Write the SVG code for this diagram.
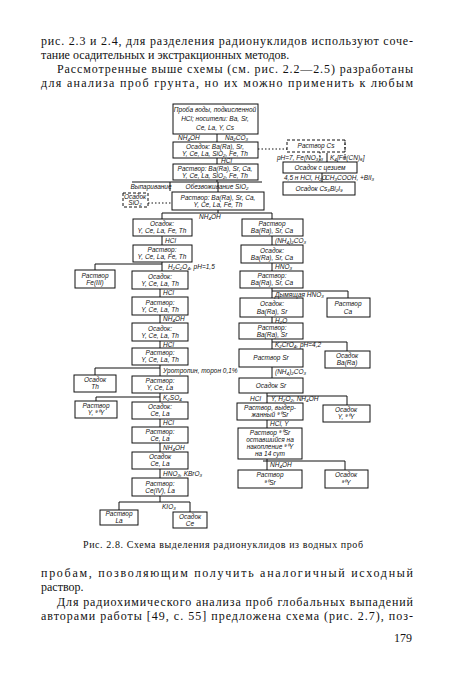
<svg xmlns="http://www.w3.org/2000/svg" width="450" height="675" viewBox="0 0 450 675">
<style>
.bg{fill:#fff}
.body{font-family:"Liberation Serif","Times New Roman",serif;font-size:12px;fill:#111}
.cap{font-family:"Liberation Serif","Times New Roman",serif;font-size:10px;fill:#111}
.b{fill:none;stroke:#111;stroke-width:1}
.bd{fill:none;stroke:#111;stroke-width:1;stroke-dasharray:3 2}
.t{font-family:"Liberation Sans",Arial,sans-serif;font-style:italic;font-size:6.5px;fill:#111;text-anchor:middle}
.l{font-family:"Liberation Sans",Arial,sans-serif;font-style:italic;font-size:6.5px;fill:#111}
.c{fill:none;stroke:#111;stroke-width:1}
.cd{fill:none;stroke:#111;stroke-width:1;stroke-dasharray:1.5 2}
</style>
<rect class="bg" x="0" y="0" width="450" height="675"/>
<g id="text-top">
<text class="body" x="41" y="45" textLength="372" lengthAdjust="spacing">рис. 2.3 и 2.4, для разделения радионуклидов используют соче-</text>
<text class="body" x="41" y="59">тание осадительных и экстракционных методов.</text>
<text class="body" x="57" y="73" textLength="356" lengthAdjust="spacing">Рассмотренные выше схемы (см. рис. 2.2—2.5) разработаны</text>
<text class="body" x="41" y="87" textLength="372" lengthAdjust="spacing">для анализа проб грунта, но их можно применить к любым</text>
</g>
<g id="connectors">
<path class="c" d="M217,134V142M217,158V164M217,180V182M132,182H262M170,182V191M218,182V192"/>
<path class="cd" d="M148,203H172"/>
<path class="c" d="M218,210V213M162,213H272M162,213V219M272,213V219"/>
<path class="c" d="M162,236V245M162,262V271M95,264H162M95,264V270"/>
<path class="c" d="M160,289V297M160,315V323M160,341V348M160,365V376M95,368H160M95,368V375"/>
<path class="c" d="M160,393V402M96,397H160M96,397V401M160,419V427M160,443V452M160,469V478M160,496V502M119,502H190M119,502V510M190,502V512"/>
<path class="c" d="M272,236V245M272,263V271M272,288V298M272,291H348M348,291V298M272,317V323M272,339V349M272,342H347M347,342V351M272,367V378M267,393V403M267,396H347M347,396V405M267,420V428M267,459V470M263,461H345M345,461V470"/>
<path class="cd" d="M258,149H287M345,140V160M320,152V162"/>
<path class="c" d="M327,153V162M322,173V182"/>
</g>
<g id="labels">
<text class="l" x="178" y="140">NH₄OH</text>
<text class="l" x="225" y="140">Na₂CO₃</text>
<text class="l" x="221" y="163">HCl</text>
<text class="t" x="151" y="189">Выпаривание</text>
<text class="t" x="217" y="189">Обезвоживание SiO₂</text>
<text class="l" x="199" y="219">NH₄OH</text>
<text class="l" x="165" y="243">HCl</text>
<text class="l" x="168" y="269">H₂C₂O₄, pH=1,5</text>
<text class="l" x="163" y="295">HCl</text>
<text class="l" x="163" y="321">NH₄OH</text>
<text class="l" x="163" y="347">HCl</text>
<text class="l" x="163" y="373">Уротропин, торон 0,1%</text>
<text class="l" x="163" y="400">K₂SO₄</text>
<text class="l" x="163" y="425">HCl</text>
<text class="l" x="163" y="450">NH₄OH</text>
<text class="l" x="163" y="476">HNO₃, KBrO₃</text>
<text class="l" x="162" y="509">KIO₃</text>
<text class="l" x="275" y="243">(NH₄)₂CO₃</text>
<text class="l" x="275" y="269">HNO₃</text>
<text class="l" x="275" y="297">Дымящая HNO₃</text>
<text class="l" x="275" y="323">H₂O</text>
<text class="l" x="275" y="347">K₂CrO₄, pH=4,2</text>
<text class="l" x="275" y="374">(NH₄)₂CO₃</text>
<text class="l" x="250" y="401">HCl</text>
<text class="l" x="271" y="401">Y, H₂O₂, NH₄OH</text>
<text class="l" x="270" y="426">HCl, Y</text>
<text class="l" x="270" y="467">NH₄OH</text>
<text class="l" x="277" y="160">pH=7, Fe(NO₃)₃</text>
<text class="l" x="330" y="160">K₄[Fe(CN)₆]</text>
<text class="l" x="284" y="180">4,5 н HCl, H₂O</text>
<text class="l" x="325" y="180">CH₃COOH, +BiI₃</text>
</g>
<g id="n1"><rect class="b" x="173" y="104" width="85" height="30"/><text class="t" x="215" y="112">Проба воды, подкисленной</text><text class="t" x="215" y="121">HCl; носители: Ba, Sr,</text><text class="t" x="215" y="130">Ce, La, Y, Cs</text></g>
<g id="n2"><rect class="b" x="173" y="142" width="85" height="16"/><text class="t" x="215" y="149">Осадок: Ba(Ra), Sr,</text><text class="t" x="215" y="156">Y, Ce, La, SiO₂, Fe, Th</text></g>
<g id="n3"><rect class="b" x="173" y="164" width="85" height="16"/><text class="t" x="215" y="171">Раствор: Ba(Ra), Sr, Ca,</text><text class="t" x="215" y="178">Y, Ce, La, SiO₂, Fe, Th</text></g>
<g id="n4"><rect class="bd" x="123" y="193" width="25" height="14"/><text class="t" x="135" y="199">Осадок</text><text class="t" x="135" y="205">SiO₂</text></g>
<g id="n5"><rect class="b" x="172" y="192" width="92" height="18"/><text class="t" x="218" y="200">Раствор: Ba(Ra), Sr, Ca,</text><text class="t" x="218" y="207">Y, Ce, La, Fe, Th</text></g>
<g id="n6"><rect class="b" x="133" y="219" width="59" height="17"/><text class="t" x="162" y="226">Осадок:</text><text class="t" x="162" y="233">Y, Ce, La, Fe, Th</text></g>
<g id="n7"><rect class="b" x="242" y="219" width="61" height="17"/><text class="t" x="272" y="226">Раствор</text><text class="t" x="272" y="233">Ba(Ra), Sr, Ca</text></g>
<g id="n8"><rect class="b" x="133" y="245" width="59" height="17"/><text class="t" x="162" y="252">Раствор:</text><text class="t" x="162" y="259">Y, Ce, La, Fe, Th</text></g>
<g id="n9"><rect class="b" x="75" y="270" width="40" height="18"/><text class="t" x="95" y="278">Раствор</text><text class="t" x="95" y="285">Fe(III)</text></g>
<g id="n10"><rect class="b" x="132" y="271" width="56" height="18"/><text class="t" x="160" y="279">Осадок:</text><text class="t" x="160" y="286">Y, Ce, La, Th</text></g>
<g id="n11"><rect class="b" x="132" y="297" width="56" height="18"/><text class="t" x="160" y="305">Раствор:</text><text class="t" x="160" y="312">Y, Ce, La, Th</text></g>
<g id="n12"><rect class="b" x="132" y="323" width="56" height="18"/><text class="t" x="160" y="331">Осадок:</text><text class="t" x="160" y="338">Y, Ce, La, Th</text></g>
<g id="n13"><rect class="b" x="132" y="348" width="56" height="17"/><text class="t" x="160" y="355">Раствор:</text><text class="t" x="160" y="362">Y, Ce, La, Th</text></g>
<g id="n14"><rect class="b" x="74" y="375" width="42" height="17"/><text class="t" x="95" y="382">Осадок</text><text class="t" x="95" y="389">Th</text></g>
<g id="n15"><rect class="b" x="132" y="376" width="56" height="17"/><text class="t" x="160" y="383">Раствор:</text><text class="t" x="160" y="390">Y, Ce, La</text></g>
<g id="n16"><rect class="b" x="75" y="401" width="42" height="17"/><text class="t" x="96" y="408">Раствор</text><text class="t" x="96" y="415">Y, ⁹⁰Y</text></g>
<g id="n17"><rect class="b" x="132" y="402" width="56" height="17"/><text class="t" x="160" y="409">Осадок:</text><text class="t" x="160" y="416">Ce, La</text></g>
<g id="n18"><rect class="b" x="132" y="427" width="56" height="16"/><text class="t" x="160" y="434">Раствор:</text><text class="t" x="160" y="441">Ce, La</text></g>
<g id="n19"><rect class="b" x="132" y="452" width="56" height="17"/><text class="t" x="160" y="459">Осадок</text><text class="t" x="160" y="466">Ce, La</text></g>
<g id="n20"><rect class="b" x="132" y="478" width="56" height="18"/><text class="t" x="160" y="486">Раствор:</text><text class="t" x="160" y="493">Ce(IV), La</text></g>
<g id="n21"><rect class="b" x="100" y="510" width="38" height="15"/><text class="t" x="119" y="516">Раствор</text><text class="t" x="119" y="523">La</text></g>
<g id="n22"><rect class="b" x="173" y="512" width="34" height="16"/><text class="t" x="190" y="519">Осадок</text><text class="t" x="190" y="526">Ce</text></g>
<g id="n23"><rect class="b" x="241" y="245" width="62" height="18"/><text class="t" x="272" y="253">Осадок:</text><text class="t" x="272" y="260">Ba(Ra), Sr, Ca</text></g>
<g id="n24"><rect class="b" x="240" y="271" width="63" height="17"/><text class="t" x="272" y="278">Раствор:</text><text class="t" x="272" y="285">Ba(Ra), Sr, Ca</text></g>
<g id="n25"><rect class="b" x="240" y="298" width="63" height="19"/><text class="t" x="272" y="306">Осадок:</text><text class="t" x="272" y="314">Ba(Ra), Sr</text></g>
<g id="n26"><rect class="b" x="327" y="298" width="43" height="19"/><text class="t" x="348" y="306">Раствор</text><text class="t" x="348" y="314">Ca</text></g>
<g id="n27"><rect class="b" x="239" y="323" width="64" height="16"/><text class="t" x="272" y="330">Раствор:</text><text class="t" x="272" y="337">Ba(Ra), Sr</text></g>
<g id="n28"><rect class="b" x="239" y="349" width="64" height="18"/><text class="t" x="271" y="360">Раствор Sr</text></g>
<g id="n29"><rect class="b" x="325" y="351" width="45" height="17"/><text class="t" x="347" y="358">Осадок</text><text class="t" x="347" y="365">Ba(Ra)</text></g>
<g id="n30"><rect class="b" x="239" y="378" width="64" height="15"/><text class="t" x="271" y="388">Осадок Sr</text></g>
<g id="n31"><rect class="b" x="237" y="403" width="66" height="17"/><text class="t" x="270" y="410">Раствор, выдер-</text><text class="t" x="270" y="417">жанный ⁹⁰Sr</text></g>
<g id="n32"><rect class="b" x="323" y="405" width="47" height="17"/><text class="t" x="346" y="412">Осадок</text><text class="t" x="346" y="419">Y, ⁹⁰Y</text></g>
<g id="n33"><rect class="b" x="238" y="428" width="64" height="31"/><text class="t" x="270" y="435">Раствор ⁹⁰Sr</text><text class="t" x="270" y="442">оставшийся на</text><text class="t" x="270" y="449">накопление ⁹⁰Y</text><text class="t" x="270" y="456">на 14 сут</text></g>
<g id="n34"><rect class="b" x="238" y="470" width="64" height="18"/><text class="t" x="270" y="477">Раствор</text><text class="t" x="270" y="485">⁹⁰Sr</text></g>
<g id="n35"><rect class="b" x="325" y="470" width="43" height="18"/><text class="t" x="346" y="477">Осадок</text><text class="t" x="346" y="485">⁹⁰Y</text></g>
<g id="n36"><rect class="bd" x="287" y="140" width="58" height="12"/><text class="t" x="316" y="148">Раствор Cs</text></g>
<g id="n37"><rect class="b" x="283" y="162" width="74" height="11"/><text class="t" x="320" y="170">Осадок с цезием</text></g>
<g id="n38"><rect class="b" x="283" y="182" width="72" height="13"/><text class="t" x="319" y="191">Осадок Cs₃Bi₂I₉</text></g>
<g id="text-bottom">
<text class="cap" x="83" y="548" textLength="280" lengthAdjust="spacing">Рис. 2.8. Схема выделения радионуклидов из водных проб</text>
<text class="body" x="41" y="577" textLength="372" lengthAdjust="spacing">пробам,   позволяющим   получить   аналогичный   исходный</text>
<text class="body" x="41" y="591">раствор.</text>
<text class="body" x="57" y="606" textLength="356" lengthAdjust="spacing">Для радиохимического анализа проб глобальных выпадений</text>
<text class="body" x="41" y="620" textLength="372" lengthAdjust="spacing">авторами работы [49, с. 55] предложена схема (рис. 2.7), поз-</text>
<text class="body" x="412" y="642" text-anchor="end">179</text>
</g>
</svg>
